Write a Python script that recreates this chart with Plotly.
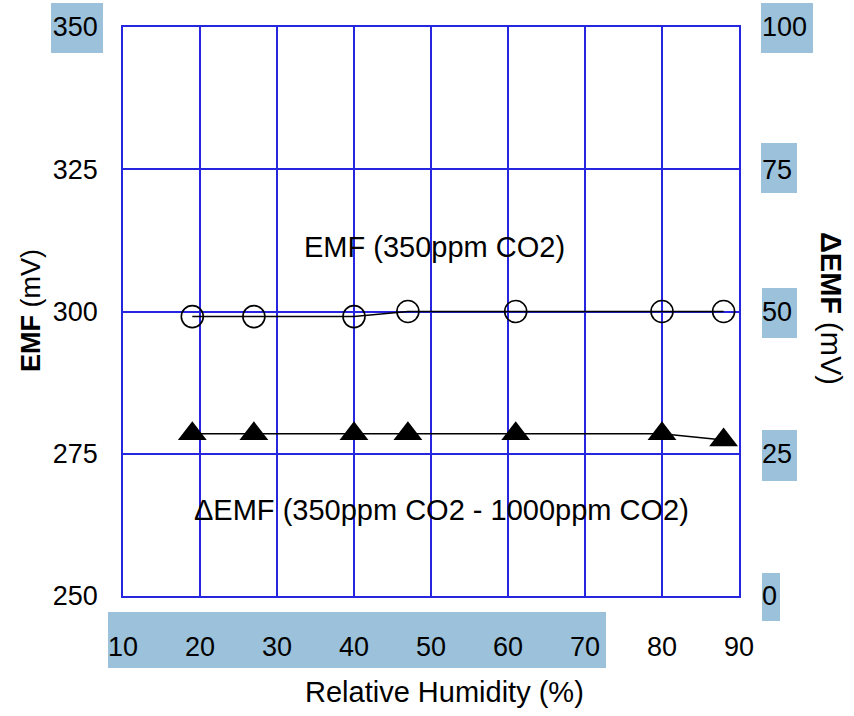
import plotly.graph_objects as go

# ---- data ----
rh = [19, 27, 40, 47, 61, 80, 88]                       # Relative Humidity (%)
emf = [299.1, 299.1, 299.1, 300.0, 300.0, 300.0, 300.0]  # EMF (mV) @ 350ppm CO2
demf = [28.5, 28.5, 28.5, 28.5, 28.5, 28.5, 27.4]        # dEMF (mV)
x_ticks = [10, 20, 30, 40, 50, 60, 70, 80, 90]
y_ticks = [250, 275, 300, 325, 350]
y2_ticks = [0, 25, 50, 75, 100]

W, H = 854, 716
L, R, T, B = 123, 739, 27, 596  # plot area in pixels


def px(x):
    return (x - L) / (R - L)


def py(y):
    return (B - y) / (B - T)


FONT = "Liberation Sans, Arial, sans-serif"
GRID = "#2626e0"
HL = "#9bc2da"

fig = go.Figure()
fig.add_trace(go.Scatter(
    x=rh, y=emf, mode="lines+markers", yaxis="y",
    line=dict(color="black", width=1.5),
    marker=dict(symbol="circle-open", size=22, color="black", line=dict(width=1.6)),
    showlegend=False))
fig.add_trace(go.Scatter(
    x=rh, y=demf, mode="lines+markers", yaxis="y2",
    line=dict(color="black", width=1.5),
    marker=dict(symbol="triangle-up", size=25, color="black"),
    showlegend=False))

# highlight boxes behind tick labels (pixel rectangles)
boxes = [(51, 3, 103, 53), (761, 3, 813, 53), (761, 143, 797, 193),
         (762, 288, 797, 338), (762, 430, 797, 481), (762, 573, 780, 621),
         (108, 612, 606, 668)]
shapes = []
for (x0, y0, x1, y1) in boxes:
    shapes.append(dict(type="rect", xref="paper", yref="paper",
                       x0=px(x0), x1=px(x1), y0=py(y1), y1=py(y0),
                       fillcolor=HL, line=dict(width=0), layer="below"))


def ann(text, x, y, size, angle=0):
    return dict(text=text, xref="paper", yref="paper", x=px(x), y=py(y),
                xanchor="center", yanchor="middle", showarrow=False,
                textangle=angle, font=dict(family=FONT, size=size, color="black"))


annotations = [
    ann("EMF (350ppm CO2)", 435, 247, 29),
    ann("ΔEMF (350ppm CO2 - 1000ppm CO2)", 441, 510, 29),
    ann("Relative Humidity (%)", 444, 692, 29),
    ann("<b>EMF</b> (mV)", 31, 311, 27, -90),
    ann("<b>ΔEMF</b> (mV)", 831, 308, 29, 90),
]

fig.update_layout(
    width=W, height=H,
    margin=dict(l=L, r=W - R, t=T, b=H - B, autoexpand=False),
    paper_bgcolor="white", plot_bgcolor="white",
    font=dict(family=FONT, size=27, color="black"),
    xaxis=dict(range=[10, 90], tickvals=x_ticks, showgrid=True,
               gridcolor=GRID, gridwidth=1.5, showline=True, linecolor=GRID,
               linewidth=1.5, mirror=True, ticks="", zeroline=False,
               ticklabelstandoff=26, tickfont=dict(size=27)),
    yaxis=dict(range=[250, 350], tickvals=y_ticks, showgrid=True,
               gridcolor=GRID, gridwidth=1.5, showline=True, linecolor=GRID,
               linewidth=1.5, mirror=True, ticks="", zeroline=False,
               ticklabelstandoff=18, tickfont=dict(size=27)),
    yaxis2=dict(range=[0, 100], tickvals=y2_ticks, overlaying="y", side="right",
                showgrid=False, showline=False, ticks="", zeroline=False,
                ticklabelstandoff=22, tickfont=dict(size=27)),
    shapes=shapes,
    annotations=annotations,
)

fig.write_html("out.html")
